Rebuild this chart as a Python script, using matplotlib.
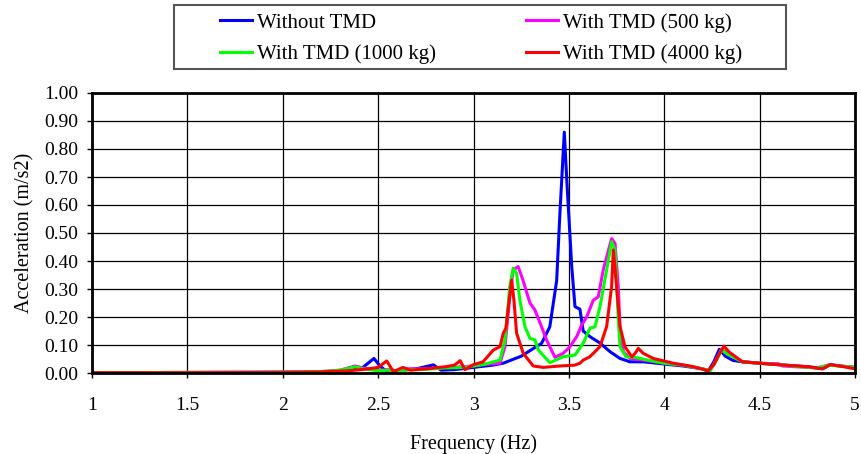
import matplotlib
matplotlib.use("Agg")
import matplotlib.pyplot as plt
from matplotlib.patches import Rectangle

plt.rcParams['font.family'] = ['Liberation Serif', 'DejaVu Serif']

# Without TMD
f_none = [1.0, 1.5, 2.0, 2.2, 2.35, 2.42, 2.478, 2.51, 2.545, 2.6, 2.7, 2.79, 2.83, 2.9, 3.0,
          3.1, 3.156, 3.25, 3.357, 3.40, 3.436, 3.453, 3.476, 3.489, 3.515, 3.532, 3.558, 3.575,
          3.61, 3.663, 3.716, 3.768, 3.82, 3.89, 4.0, 4.1, 4.2, 4.23, 4.26, 4.289, 4.32, 4.36,
          4.41, 4.5, 4.59, 4.7, 4.76, 4.83, 4.87, 4.92, 5.0]
a_none = [0.001, 0.002, 0.003, 0.004, 0.01, 0.02, 0.052, 0.025, 0.005, 0.008, 0.015, 0.029, 0.01,
          0.012, 0.02, 0.028, 0.035, 0.06, 0.106, 0.165, 0.33, 0.57, 0.86, 0.69, 0.38, 0.237,
          0.228, 0.15, 0.13, 0.107, 0.076, 0.052, 0.04, 0.04, 0.032, 0.025, 0.015, 0.006, 0.04,
          0.085, 0.06, 0.045, 0.04, 0.035, 0.03, 0.025, 0.022, 0.015, 0.03, 0.025, 0.02]

# With TMD 500 kg
f_500 = [1.0, 1.5, 2.0, 2.2, 2.3, 2.38, 2.42, 2.5, 2.55, 2.6, 2.65, 2.75, 2.85, 2.95, 3.05,
         3.139, 3.165, 3.19, 3.208, 3.234, 3.26, 3.296, 3.322, 3.357, 3.383, 3.427, 3.47, 3.506,
         3.541, 3.567, 3.593, 3.628, 3.654, 3.68, 3.724, 3.742, 3.759, 3.768, 3.786, 3.82, 3.85,
         3.9, 4.0, 4.1, 4.2, 4.24, 4.27, 4.30, 4.33, 4.41, 4.5, 4.6, 4.62, 4.7, 4.8, 4.86, 4.9, 5.0]
a_500 = [0.001, 0.002, 0.003, 0.005, 0.01, 0.025, 0.018, 0.01, 0.012, 0.008, 0.015, 0.015, 0.02,
         0.022, 0.03, 0.035, 0.094, 0.27, 0.368, 0.38, 0.33, 0.25, 0.225, 0.165, 0.118, 0.056,
         0.07, 0.094, 0.13, 0.171, 0.2, 0.26, 0.272, 0.368, 0.48, 0.463, 0.308, 0.165, 0.076,
         0.052, 0.05, 0.045, 0.035, 0.028, 0.015, 0.008, 0.045, 0.085, 0.07, 0.04, 0.035, 0.033,
         0.025, 0.022, 0.018, 0.028, 0.027, 0.02]

# With TMD 1000 kg
f_1000 = [1.0, 1.5, 2.0, 2.2, 2.3, 2.38, 2.42, 2.5, 2.55, 2.6, 2.65, 2.75, 2.85, 2.95, 3.05,
          3.139, 3.165, 3.19, 3.208, 3.226, 3.243, 3.27, 3.296, 3.322, 3.34, 3.4, 3.47, 3.532,
          3.575, 3.61, 3.637, 3.663, 3.698, 3.724, 3.742, 3.759, 3.768, 3.8, 3.847, 3.9, 4.0,
          4.1, 4.2, 4.24, 4.27, 4.30, 4.33, 4.41, 4.5, 4.6, 4.7, 4.8, 4.86, 4.9, 5.0]
a_1000 = [0.001, 0.002, 0.003, 0.005, 0.01, 0.022, 0.015, 0.008, 0.01, 0.006, 0.012, 0.013,
          0.018, 0.02, 0.03, 0.046, 0.118, 0.308, 0.374, 0.356, 0.26, 0.165, 0.124, 0.118, 0.082,
          0.037, 0.058, 0.064, 0.106, 0.16, 0.165, 0.237, 0.368, 0.469, 0.44, 0.19, 0.094, 0.058,
          0.056, 0.048, 0.035, 0.028, 0.015, 0.008, 0.04, 0.082, 0.068, 0.04, 0.035, 0.03, 0.023,
          0.018, 0.027, 0.026, 0.02]

# With TMD 4000 kg
f_4000 = [1.0, 1.5, 2.0, 2.2, 2.35, 2.45, 2.5, 2.545, 2.58, 2.63, 2.67, 2.75, 2.85, 2.9, 2.93,
          2.955, 3.0, 3.05, 3.104, 3.139, 3.156, 3.17, 3.183, 3.2, 3.212, 3.226, 3.261, 3.313,
          3.366, 3.45, 3.53, 3.558, 3.575, 3.61, 3.663, 3.698, 3.724, 3.733, 3.75, 3.768, 3.794,
          3.83, 3.847, 3.864, 3.89, 3.943, 4.047, 4.15, 4.23, 4.26, 4.29, 4.313, 4.34, 4.41, 4.5,
          4.59, 4.7, 4.76, 4.83, 4.87, 4.92, 5.0]
a_4000 = [0.001, 0.001, 0.002, 0.004, 0.008, 0.015, 0.02, 0.043, 0.005, 0.02, 0.01, 0.015, 0.022,
          0.028, 0.044, 0.012, 0.03, 0.04, 0.082, 0.094, 0.142, 0.16, 0.237, 0.332, 0.26, 0.142,
          0.07, 0.025, 0.02, 0.025, 0.028, 0.035, 0.046, 0.058, 0.094, 0.166, 0.308, 0.44, 0.31,
          0.166, 0.094, 0.058, 0.07, 0.088, 0.07, 0.052, 0.035, 0.023, 0.008, 0.03, 0.07, 0.096,
          0.075, 0.04, 0.035, 0.03, 0.025, 0.022, 0.015, 0.03, 0.025, 0.015]

x_ticks = [1, 1.5, 2, 2.5, 3, 3.5, 4, 4.5, 5]
x_labels = ["1", "1.5", "2", "2.5", "3", "3.5", "4", "4.5", "5"]
y_ticks = [i / 10 for i in range(11)]

W, H = 861, 454
fig = plt.figure(figsize=(W / 100, H / 100), dpi=100)
ax = fig.add_axes([92 / W, (H - 373) / H, (855 - 92) / W, (373 - 93) / H])

lw = 2.2
l1, = ax.plot(f_none, a_none, color="#0000FF", lw=lw, label="Without TMD")
l2, = ax.plot(f_500, a_500, color="#FF00FF", lw=lw, label="With TMD (500 kg)")
l3, = ax.plot(f_1000, a_1000, color="#00FF00", lw=lw, label="With TMD (1000 kg)")
l4, = ax.plot(f_4000, a_4000, color="#FF0000", lw=lw, label="With TMD (4000 kg)")

ax.set_xlim(1, 5)
ax.set_ylim(0, 1.0)
ax.set_xticks(x_ticks)
ax.set_xticklabels(x_labels)
ax.set_yticks(y_ticks)
ax.set_yticklabels([f"{v:.2f}" for v in y_ticks])
ax.grid(True, color="black", lw=0.9)
ax.set_axisbelow(True)
for s in ax.spines.values():
    s.set_linewidth(2.0)
ax.tick_params(direction="out", length=3.6, width=1, labelsize=14, colors="black")
ax.tick_params(axis="x", pad=14)
ax.tick_params(axis="y", pad=6.5)

ax.set_xlabel("Frequency (Hz)", fontsize=14.5, labelpad=14)
ax.set_ylabel("Acceleration (m/s2)", fontsize=14.5, labelpad=7)

# legend box drawn separately
fig.patches.append(Rectangle((174 / W, (H - 69) / H), (786 - 174) / W, 64 / H,
                             transform=fig.transFigure, fill=False,
                             edgecolor="#555555", lw=1.5))
leg = fig.legend([l1, l3, l2, l4],
                 ["Without TMD", "With TMD (1000 kg)", "With TMD (500 kg)", "With TMD (4000 kg)"],
                 loc="upper left", bbox_to_anchor=(220 / W, (H - 13) / H),
                 ncol=2, fontsize=15, frameon=False, borderpad=0, borderaxespad=0,
                 handlelength=1.54, handletextpad=0.25, columnspacing=4.3, labelspacing=0.55)

fig.savefig("out.png", dpi=100)
